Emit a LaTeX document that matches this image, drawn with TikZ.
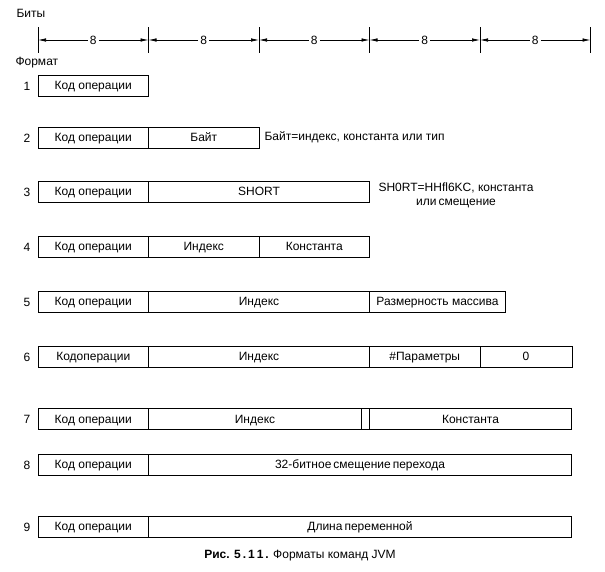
\documentclass[tikz,border=0pt]{standalone}
\usepackage{fontspec}
\setmainfont{Liberation Sans}
\usetikzlibrary{positioning, arrows.meta, calc}

\begin{document}
\begin{tikzpicture}[x=1pt, y=-1pt, node distance=0pt,
    field/.style={draw, line width=0.9pt, outer sep=0pt, inner sep=0pt,
      minimum height=21pt, text height=9.5pt, text depth=1.5pt,
      anchor=west, font=\fontsize{12}{14}\selectfont},
    txt/.style={font=\fontsize{12}{14}\selectfont},
    bits/.style={-{Latex[length=8pt,width=3.5pt]}, line width=0.7pt}]
   \useasboundingbox (0,0) rectangle (605,571);
   % ruler
   \node[txt, anchor=west] (bitsl) at (13,13) {Биты};
   \foreach \i/\x in {0/38, 1/148.5, 2/259, 3/369.5, 4/480, 5/590.5} {
     \draw[line width=0.7pt] (\x,27) -- (\x,53);
     \coordinate (t\i) at (\x,40);
   }
   \foreach \i/\j in {0/1, 1/2, 2/3, 3/4, 4/5} {
     \node[fill=white, inner sep=2pt, font=\fontsize{12}{14}\selectfont] (b\i) at ($(t\i)!0.5!(t\j)$) {8};
     \draw[bits] (b\i) -- (t\j);
     \draw[bits] (b\i) -- (t\i);
   }
   \node[txt, anchor=west] (fmt) at (12,63) {Формат};

   % 1
   \node[txt] (n1) at (27,86) {1};
   \node[field, minimum width=110.5pt] (op1) at (38,85.5) {Код операции};
   % 2
   \node[txt] (n2) at (27,138) {2};
   \node[field, minimum width=110.5pt] (op2) at (38,137.5) {Код операции};
   \node[field, minimum width=110.5pt] (byte2) [right=of op2] {Байт};
   \node[txt, anchor=west] (note2) [right=2pt of byte2] {Байт=индекс, константа или тип};
   % 3
   \node[txt] (n3) at (27,192) {3};
   \node[field, minimum width=110.5pt] (op3) at (38,191.5) {Код операции};
   \node[field, minimum width=221pt] (short3) [right=of op3] {SHORT};
   \node[txt, align=center] (note3) at (456,195) {SH0RT=HHfl6KC, константа\\или\,смещение};
   % 4
   \node[txt] (n4) at (27,247) {4};
   \node[field, minimum width=110.5pt] (op4) at (38,246.5) {Код операции};
   \node[field, minimum width=110.5pt] (idx4) [right=of op4] {Индекс};
   \node[field, minimum width=110.5pt] (const4) [right=of idx4] {Константа};
   % 5
   \node[txt] (n5) at (27,302) {5};
   \node[field, minimum width=110.5pt] (op5) at (38,301.5) {Код операции};
   \node[field, minimum width=221pt] (idx5) [right=of op5] {Индекс};
   \node[field, minimum width=136pt] (dim5) [right=of idx5] {Размерность массива};
   % 6
   \node[txt] (n6) at (27,357) {6};
   \node[field, minimum width=110.5pt] (op6) at (38,356.5) {Кодоперации};
   \node[field, minimum width=221pt] (idx6) [right=of op6] {Индекс};
   \node[field, minimum width=110.5pt] (par6) [right=of idx6] {\#Параметры};
   \node[field, minimum width=92pt] (zero6) [right=of par6] {0};
   % 7
   \node[txt] (n7) at (27,419.5) {7};
   \node[field, minimum width=110.5pt] (op7) at (38,419) {Код операции};
   \node[field, minimum width=213pt] (idx7) [right=of op7] {Индекс};
   \node[field, minimum width=202pt] (const7) [right=8pt of idx7] {Константа};
   \draw[line width=0.9pt] (idx7.north east) -- (const7.north west)
     (idx7.south east) -- (const7.south west);
   % 8
   \node[txt] (n8) at (27,465) {8};
   \node[field, minimum width=110.5pt] (op8) at (38,464.5) {Код операции};
   \node[field, minimum width=423pt] (off8) [right=of op8] {32-битное\,смещение\,перехода};
   % 9
   \node[txt] (n9) at (27,527) {9};
   \node[field, minimum width=110.5pt] (op9) at (38,526.5) {Код операции};
   \node[field, minimum width=423pt] (len9) [right=of op9] {Длина\,переменной};

   \node[font=\fontsize{12}{14}\selectfont] (cap) at (300,556) {\textbf{Рис. 5\,.\,1\,1\,.} Форматы команд JVM};
\end{tikzpicture}
\end{document}
